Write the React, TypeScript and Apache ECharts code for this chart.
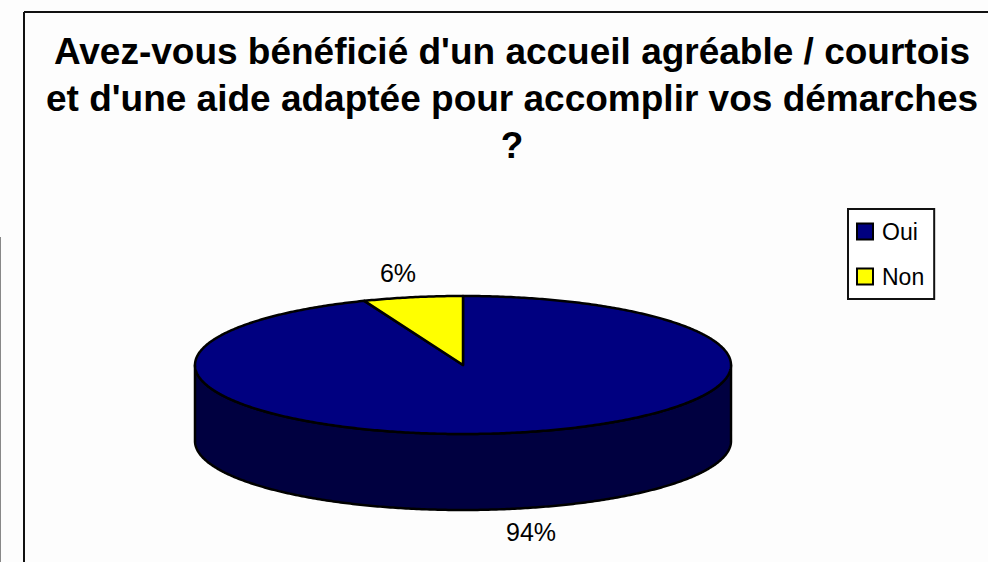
import React, { useEffect, useRef } from "react";
import * as echarts from "echarts";

const titleLines = [
  "Avez-vous bénéficié d'un accueil agréable / courtois",
  "et d'une aide adaptée pour accomplir vos démarches",
  "?",
];
const categories = ["Oui", "Non"];
const values = [94, 6];
const topColors = ["#000080", "#ffff00"];
const sideColors = ["#000040", "#808000"];

const CX = 463, CY = 365, RX = 268, RY = 69, DEPTH = 76;

const total = values.reduce((a, b) => a + b, 0);
const pt = (t: number, dy = 0): number[] => [CX + RX * Math.sin(t), CY + dy - RY * Math.cos(t)];

const arcPoints = (a: number, b: number, dy = 0): number[][] => {
  const n = Math.max(2, Math.ceil(Math.abs(b - a) / 0.01));
  const out: number[][] = [];
  for (let i = 0; i <= n; i++) out.push(pt(a + ((b - a) * i) / n, dy));
  return out;
};

const makeSeries = (idx: number, labelPos: number[]) => ({
  type: "custom",
  name: categories[idx],
  coordinateSystem: "none",
  silent: true,
  itemStyle: { color: topColors[idx], borderColor: "#000", borderWidth: 2 },
  data: [values[idx]],
  z: idx === 0 ? 2 : 3,
  renderItem: () => {
    const before = values.slice(0, idx).reduce((a, b) => a + b, 0);
    const a0 = (before / total) * Math.PI * 2;
    const a1 = ((before + values[idx]) / total) * Math.PI * 2;
    const children: any[] = [];
    // front rim: the part of the slice between 90° and 270° clockwise from the top
    const s0 = Math.max(a0, Math.PI / 2);
    const s1 = Math.min(a1, (Math.PI * 3) / 2);
    if (s1 > s0) {
      const pts = [...arcPoints(s0, s1), ...arcPoints(s1, s0, DEPTH)];
      children.push({
        type: "polygon",
        shape: { points: pts },
        style: { fill: sideColors[idx], stroke: "#000", lineWidth: 2.5, lineJoin: "round" },
      });
    }
    children.push({
      type: "polygon",
      shape: { points: [[CX, CY], ...arcPoints(a0, a1)] },
      style: { fill: topColors[idx], stroke: "#000", lineWidth: 2.5, lineJoin: "round" },
    });
    children.push({
      type: "text",
      x: labelPos[0],
      y: labelPos[1],
      style: {
        text: `${Math.round((values[idx] / total) * 100)}%`,
        fill: "#000",
        font: "25px 'Liberation Sans', Arial, sans-serif",
        align: "center",
        verticalAlign: "middle",
      },
    });
    return { type: "group", children };
  },
});

export default function App() {
  const ref = useRef<HTMLDivElement>(null);
  useEffect(() => {
    const chart = echarts.init(ref.current!, undefined, { renderer: "svg" });
    chart.setOption({
      animation: false,
      backgroundColor: "#fdfdfd",
      title: {
        text: titleLines.join("\n"),
        left: 507,
        top: 23,
        textAlign: "center",
        textStyle: {
          fontFamily: "'Liberation Sans', Arial, sans-serif",
          fontWeight: "bold",
          fontSize: 37,
          lineHeight: 47,
          color: "#000",
        },
      },
      legend: {
        orient: "vertical",
        left: 848,
        top: 209,
        data: categories,
        icon: "rect",
        itemWidth: 16,
        itemHeight: 16,
        itemGap: 22,
        padding: [11, 10, 11, 8],
        backgroundColor: "#fff",
        borderColor: "#111",
        borderWidth: 2,
        selectedMode: false,
        itemStyle: { borderColor: "#000", borderWidth: 2 },
        textStyle: {
          fontFamily: "'Liberation Sans', Arial, sans-serif",
          fontSize: 23,
          color: "#000",
          padding: [0, 0, 0, 4],
        },
      },
      graphic: [
        { type: "line", silent: true, shape: { x1: 24, y1: 12, x2: 988, y2: 12 }, style: { stroke: "#111", lineWidth: 2 } },
        { type: "line", silent: true, shape: { x1: 24, y1: 12, x2: 24, y2: 562 }, style: { stroke: "#111", lineWidth: 2 } },
        { type: "line", silent: true, shape: { x1: 0.5, y1: 237, x2: 0.5, y2: 562 }, style: { stroke: "#888", lineWidth: 1 } },
      ],
      series: [makeSeries(0, [531, 532]), makeSeries(1, [398, 273])],
    });
    return () => chart.dispose();
  }, []);
  return <div ref={ref} style={{ position: "absolute", left: 0, top: 0, width: 988, height: 562 }} />;
}
